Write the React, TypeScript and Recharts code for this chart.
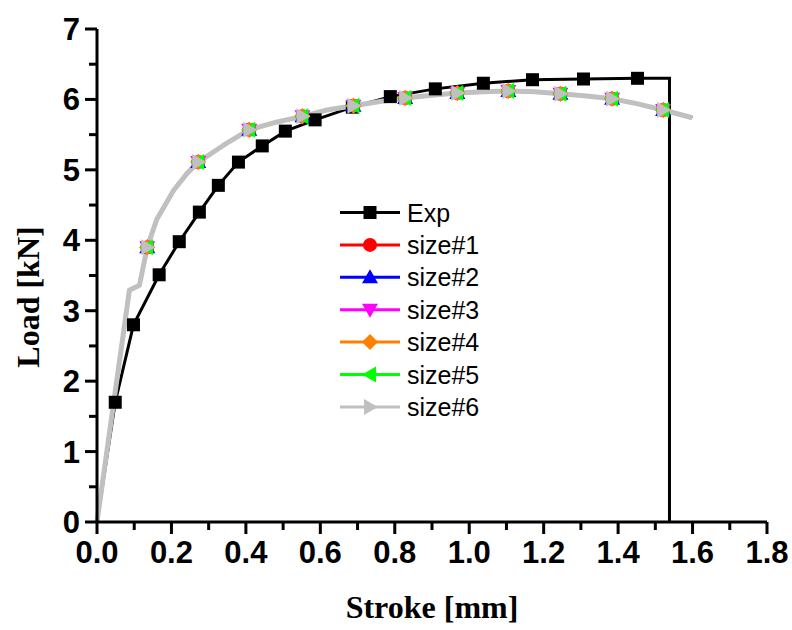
import React from 'react';
import { LineChart, Line, XAxis, YAxis } from 'recharts';

// axis ticks (minor ticks are short and carry no label)
const xTicks = [0, 0.1, 0.2, 0.3, 0.4, 0.5, 0.6, 0.7, 0.8, 0.9, 1.0, 1.1, 1.2, 1.3, 1.4, 1.5, 1.6, 1.7, 1.8];
const xMajor = [0, 0.2, 0.4, 0.6, 0.8, 1.0, 1.2, 1.4, 1.6, 1.8];
const yTicks = [0, 0.5, 1, 1.5, 2, 2.5, 3, 3.5, 4, 4.5, 5, 5.5, 6, 6.5, 7];
const yMajor = [0, 1, 2, 3, 4, 5, 6, 7];

// experiment
const expStroke = [0, 0.049, 0.098, 0.167, 0.221, 0.275, 0.326, 0.38, 0.444, 0.506, 0.586, 0.686, 0.788, 0.909, 1.038, 1.17, 1.307, 1.452, 1.538, 1.538];
const expLoad = [0, 1.7, 2.8, 3.51, 3.98, 4.4, 4.78, 5.11, 5.34, 5.55, 5.71, 5.89, 6.04, 6.15, 6.23, 6.28, 6.29, 6.3, 6.3, 0];
const expMarked = [0, 1, 1, 1, 1, 1, 1, 1, 1, 1, 1, 1, 1, 1, 1, 1, 1, 1, 0, 0];

// simulations (all six sizes lie on top of each other)
const simStroke = [0, 0.087, 0.114, 0.135, 0.16, 0.206, 0.242, 0.272, 0.34, 0.409, 0.484, 0.552, 0.618, 0.689, 0.76, 0.828, 0.9, 0.968, 1.04, 1.105, 1.175, 1.245, 1.315, 1.384, 1.45, 1.521, 1.599];
const simLoad = [0, 3.29, 3.36, 3.9, 4.29, 4.71, 4.95, 5.11, 5.35, 5.57, 5.68, 5.76, 5.85, 5.91, 5.97, 6.02, 6.06, 6.09, 6.11, 6.12, 6.11, 6.08, 6.05, 6.01, 5.94, 5.85, 5.74];
const simMarked = [0, 0, 0, 1, 0, 0, 0, 1, 0, 1, 0, 1, 0, 1, 0, 1, 0, 1, 0, 1, 0, 1, 0, 1, 0, 1, 0];

const sizeNames = ['size#1', 'size#2', 'size#3', 'size#4', 'size#5', 'size#6'];
const sizeColors = ['#ff0000', '#0000ff', '#ff00ff', '#ff8000', '#00ff00', '#c0c0c0'];
const sizeShapes = ['circle', 'up', 'down', 'diamond', 'left', 'right'];

const expData = expStroke.map((x, i) => ({ x, y: expLoad[i], m: expMarked[i] }));
const simData = simStroke.map((x, i) => ({ x, y: simLoad[i], m: simMarked[i] }));

const tickFont = "'Liberation Sans', Arial, sans-serif";
const titleFont = "'Liberation Serif', 'Times New Roman', serif";
const TS = 15; // tickSize
const TM = 2; // tickMargin

function Marker({ shape, cx, cy, color, s = 8 }: any) {
  switch (shape) {
    case 'square':
      return <rect x={cx - 6.5} y={cy - 6.5} width={13} height={13} fill={color} />;
    case 'circle':
      return <circle cx={cx} cy={cy} r={s - 1} fill={color} />;
    case 'up':
      return <polygon points={`${cx},${cy - s} ${cx + s},${cy + s * 0.75} ${cx - s},${cy + s * 0.75}`} fill={color} />;
    case 'down':
      return <polygon points={`${cx},${cy + s} ${cx + s},${cy - s * 0.75} ${cx - s},${cy - s * 0.75}`} fill={color} />;
    case 'diamond':
      return <polygon points={`${cx},${cy - s} ${cx + s},${cy} ${cx},${cy + s} ${cx - s},${cy}`} fill={color} />;
    case 'left':
      return <polygon points={`${cx - s},${cy} ${cx + s * 0.75},${cy - s} ${cx + s * 0.75},${cy + s}`} fill={color} />;
    case 'right':
      return <polygon points={`${cx + s},${cy} ${cx - s * 0.75},${cy - s} ${cx - s * 0.75},${cy + s}`} fill={color} />;
    default:
      return null;
  }
}

const makeDot = (shape: string, color: string) => (props: any) => {
  const { cx, cy, payload, index } = props;
  if (!payload || !payload.m || cx == null || cy == null) return <g key={`d${index}`} />;
  return (
    <g key={`d${index}`}>
      <Marker shape={shape} cx={cx} cy={cy} color={color} />
    </g>
  );
};

// custom ticks: a bar from the axis line outwards, plus a label for major ticks
const renderXTick = (props: any) => {
  const x = Number(props.x);
  const y0 = Number(props.y) - TS - TM; // axis line
  const v = Number(props.payload.value);
  const major = xMajor.some((m) => Math.abs(m - v) < 1e-6);
  return (
    <g>
      <rect x={x - 1.5} y={y0} width={3} height={major ? 12 : 8} fill="#000" />
      {major && (
        <text x={x} y={y0 + 41} textAnchor="middle" fontFamily={tickFont} fontWeight="bold" fontSize={31} fill="#000">
          {v.toFixed(1)}
        </text>
      )}
    </g>
  );
};

const renderYTick = (props: any) => {
  const x0 = Number(props.x) + TS + TM; // axis line
  const y = Number(props.y);
  const v = Number(props.payload.value);
  const major = yMajor.includes(v);
  const len = major ? 12 : 8;
  return (
    <g>
      <rect x={x0 - len} y={y - 1.5} width={len} height={3} fill="#000" />
      {major && (
        <text x={x0 - 17} y={y + 11} textAnchor="end" fontFamily={tickFont} fontWeight="bold" fontSize={31} fill="#000">
          {v}
        </text>
      )}
    </g>
  );
};

function Overlay() {
  const rows = [{ name: 'Exp', color: '#000000', shape: 'square' }].concat(
    sizeNames.map((name, i) => ({ name, color: sizeColors[i], shape: sizeShapes[i] }))
  );
  return (
    <g>
      <text x={432} y={618} textAnchor="middle" fontFamily={titleFont} fontWeight="bold" fontSize={32} fill="#000">
        Stroke [mm]
      </text>
      <text x={39} y={297} transform="rotate(-90, 39, 297)" textAnchor="middle" fontFamily={titleFont} fontWeight="bold" fontSize={32} fill="#000">
        Load [kN]
      </text>
      {rows.map((r, i) => {
        const cy = 212.5 + i * 32.4;
        return (
          <g key={r.name}>
            <line x1={340} x2={400} y1={cy} y2={cy} stroke={r.color} strokeWidth={3} />
            <Marker shape={r.shape} cx={370} cy={cy} color={r.color} />
            <text x={407} y={cy + 9} fontFamily={tickFont} fontSize={25} fill="#000">
              {r.name}
            </text>
          </g>
        );
      })}
    </g>
  );
}

export default function App() {
  return (
    <div style={{ position: 'absolute', left: 0, top: 0, width: 792, height: 630, background: '#fff' }}>
      <LineChart width={792} height={630} margin={{ top: 29, right: 25, bottom: 58, left: 17 }}>
        <XAxis
          dataKey="x"
          type="number"
          domain={[0, 1.8]}
          ticks={xTicks}
          interval={0}
          height={50}
          tickSize={TS}
          tickMargin={TM}
          tickLine={false}
          tick={renderXTick}
          stroke="#000"
          strokeWidth={3}
        />
        <YAxis
          type="number"
          domain={[0, 7]}
          ticks={yTicks}
          interval={0}
          width={80}
          tickSize={TS}
          tickMargin={TM}
          tickLine={false}
          tick={renderYTick}
          stroke="#000"
          strokeWidth={3}
        />
        <Line
          data={expData}
          dataKey="y"
          name="Exp"
          type="linear"
          stroke="#000"
          strokeWidth={3}
          dot={makeDot('square', '#000')}
          activeDot={false}
          isAnimationActive={false}
        />
        {sizeNames.map((name, i) => (
          <Line
            key={name}
            data={simData}
            dataKey="y"
            name={name}
            type="linear"
            stroke={sizeColors[i]}
            strokeWidth={i === 5 ? 5 : 2}
            strokeLinejoin="round"
            dot={makeDot(sizeShapes[i], sizeColors[i])}
            activeDot={false}
            isAnimationActive={false}
          />
        ))}
        <Overlay />
      </LineChart>
    </div>
  );
}
